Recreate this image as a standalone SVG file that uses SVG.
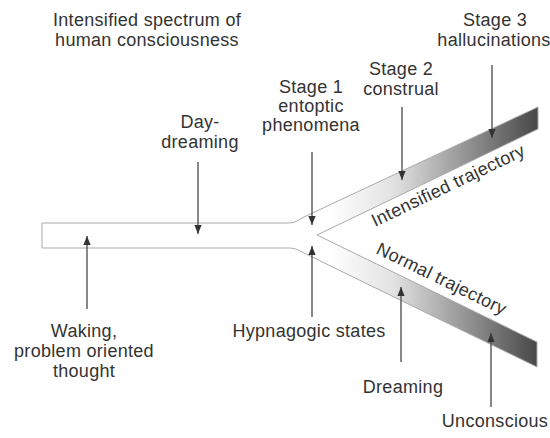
<svg xmlns="http://www.w3.org/2000/svg" width="550" height="438" viewBox="0 0 550 438">
  <defs>
    <linearGradient id="g" gradientUnits="userSpaceOnUse" x1="330" y1="0" x2="540" y2="0">
      <stop offset="0" stop-color="#ffffff"/>
      <stop offset="0.3" stop-color="#e2e2e2"/>
      <stop offset="1" stop-color="#454545"/>
    </linearGradient>
    <marker id="ah" viewBox="0 0 10 8" refX="10" refY="4" markerWidth="9" markerHeight="8" markerUnits="userSpaceOnUse" orient="auto">
      <path d="M0,0 L10,4 L0,8 Z" fill="#333"/>
    </marker>
    <style>
      text { font-family: "Liberation Sans", Arial, sans-serif; font-size: 18px; letter-spacing: 0.3px; fill: #333; text-anchor: middle; }
      .arr { stroke: #555; stroke-width: 1.4; fill: none; marker-end: url(#ah); }
    </style>
  </defs>

  <g id="trajectory">
    <path d="M42,223 H288 C296,223 298,220 304,217 L538,107 V129 L317,235 L537,342 V367 L304,253 C298,250 296,248 288,248 H42 Z" fill="url(#g)" stroke="#aaaaaa" stroke-width="1"/>
    <text x="375" y="227" style="text-anchor:start" transform="rotate(-25.5 375 227)">Intensified trajectory</text>
    <text x="375" y="253" style="text-anchor:start" transform="rotate(26 375 253)">Normal trajectory</text>
  </g>

  <g id="connectors">
    <line class="arr" x1="198" y1="162" x2="198" y2="234"/>
    <line class="arr" x1="87" y1="309" x2="87" y2="236"/>
    <line class="arr" x1="312" y1="152" x2="312" y2="225"/>
    <line class="arr" x1="312" y1="317" x2="312" y2="246"/>
    <line class="arr" x1="402" y1="107" x2="402" y2="180"/>
    <line class="arr" x1="492" y1="65" x2="492" y2="138"/>
    <line class="arr" x1="401" y1="362" x2="401" y2="287"/>
    <line class="arr" x1="491" y1="407" x2="491" y2="333"/>
  </g>

  <g id="title">
    <text x="147" y="26">Intensified spectrum of</text>
    <text x="147" y="46">human consciousness</text>
  </g>
  <g id="daydreaming">
    <text x="200" y="128">Day-</text>
    <text x="200" y="148">dreaming</text>
  </g>
  <g id="stage1">
    <text x="311" y="93">Stage 1</text>
    <text x="311" y="112">entoptic</text>
    <text x="311" y="131">phenomena</text>
  </g>
  <g id="stage2">
    <text x="401" y="75">Stage 2</text>
    <text x="401" y="95">construal</text>
  </g>
  <g id="stage3">
    <text x="495" y="26">Stage 3</text>
    <text x="494" y="46">hallucinations</text>
  </g>
  <g id="waking">
    <text x="84" y="337">Waking,</text>
    <text x="84" y="357">problem oriented</text>
    <text x="84" y="377">thought</text>
  </g>
  <g id="hypnagogic">
    <text x="309" y="337">Hypnagogic states</text>
  </g>
  <g id="dreaming">
    <text x="403" y="393">Dreaming</text>
  </g>
  <g id="unconscious">
    <text x="495" y="427">Unconscious</text>
  </g>
</svg>
